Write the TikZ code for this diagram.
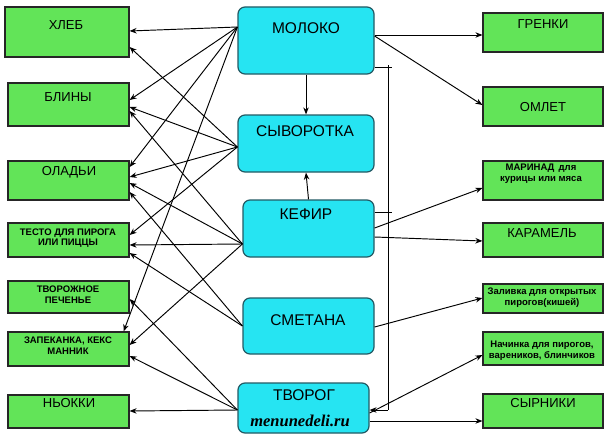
\documentclass[tikz,border=0pt]{standalone}
\usepackage{fontspec}
\setmainfont{Liberation Sans}
\newfontfamily\wmserif{Liberation Serif}
\usetikzlibrary{fit,arrows.meta}
\definecolor{gfill}{RGB}{98,228,88}
\definecolor{cfill}{RGB}{38,228,242}
\definecolor{cedge}{RGB}{35,90,100}
\begin{document}
\begin{tikzpicture}[x=1pt,y=-1pt,
 gbox/.style={draw=black!85, line width=1.2pt, fill=gfill, inner sep=0pt},
 cbox/.style={draw=cedge, line width=1.2pt, fill=cfill, inner sep=0pt, rounded corners=7pt},
 big/.style={font=\fontsize{13}{15}\selectfont, inner sep=0pt},
 cen/.style={font=\fontsize{15.5}{18}\selectfont, inner sep=0pt},
 small/.style={font=\bfseries\fontsize{9.5}{10.5}\selectfont, align=center, inner sep=0pt},
 conn/.style={draw=black, line width=0.95pt, -{Stealth[length=7pt,width=5.5pt]}},
 plain/.style={draw=black, line width=1pt}]
\fill[white] (0,0) rectangle (604,436);
\useasboundingbox (0,0) rectangle (604,436);
% left boxes
\node[gbox, fit={(5,7)(129,57)}] (hleb) {};
\node[gbox, fit={(8,83)(129,126)}] (blini) {};
\node[gbox, fit={(8,161)(129,200)}] (oladi) {};
\node[gbox, fit={(8,223)(129,257)}] (testo) {};
\node[gbox, fit={(8,281)(129,313)}] (pech) {};
\node[gbox, fit={(8,332)(129,366)}] (zapek) {};
\node[gbox, fit={(8,395)(129,428)}] (nyokki) {};
% center boxes
\node[cbox, fit={(238,7)(374,74)}] (moloko) {};
\node[cbox, fit={(238,115)(374,172)}] (syv) {};
\node[cbox, fit={(243,200)(374,257)}] (kefir) {};
\node[cbox, fit={(243,298)(374,354)}] (smetana) {};
\node[cbox, fit={(238,383)(369,433)}] (tvorog) {};
% right boxes
\node[gbox, fit={(483,13)(603,52)}] (grenki) {};
\node[gbox, fit={(483,87)(603,126)}] (omlet) {};
\node[gbox, fit={(483,161)(603,200)}] (marinad) {};
\node[gbox, fit={(483,223)(603,257)}] (karamel) {};
\node[gbox, fit={(483,284)(603,313)}] (zaliv) {};
\node[gbox, fit={(483,332)(603,365)}] (nachin) {};
\node[gbox, fit={(483,394)(603,428)}] (syrniki) {};
% texts
\node[big] (t-hleb) at (66,25) {ХЛЕБ};
\node[big] (t-blini) at (68,97) {БЛИНЫ};
\node[big] (t-oladi) at (69,172) {ОЛАДЬИ};
\node[small] (t-testo) at (68,238) {ТЕСТО ДЛЯ ПИРОГА\\ИЛИ ПИЦЦЫ};
\node[small] (t-pech) at (68,294.5) {ТВОРОЖНОЕ\\ПЕЧЕНЬЕ};
\node[small] (t-zapek) at (68,345.5) {ЗАПЕКАНКА, КЕКС\\МАННИК};
\node[big] (t-nyokki) at (69,403) {НЬОККИ};
\node[cen] (t-moloko) at (306,28) {МОЛОКО};
\node[cen] (t-syv) at (305,131) {СЫВОРОТКА};
\node[cen] (t-kefir) at (306,214) {КЕФИР};
\node[cen] (t-smetana) at (308,320) {СМЕТАНА};
\node[cen] (t-tvorog) at (304,395) {ТВОРОГ};
\node[inner sep=0pt, font=\wmserif\bfseries\itshape\fontsize{16.5}{18}\selectfont] (t-site) at (300,421) {menunedeli.ru};
\node[big] (t-grenki) at (543,24) {ГРЕНКИ};
\node[big] (t-omlet) at (543,107) {ОМЛЕТ};
\node[small] (t-marinad) at (541,173.5) {МАРИНАД\, для\\курицы или мяса};
\node[big] (t-karamel) at (542,233) {КАРАМЕЛЬ};
\node[small] (t-zaliv) at (542,297.5) {Заливка для открытых\\пирогов(кишей)};
\node[small] (t-nachin) at (542,350.5) {Начинка для пирогов,\\вареников, блинчиков};
\node[big] (t-syrniki) at (543,403) {СЫРНИКИ};
% left connectors
\draw[conn] (moloko.west |- 0,27) -- (hleb.east |- 0,31);
\draw[conn] (moloko.west |- 0,27) -- (blini.east |- 0,100);
\draw[conn] (moloko.west |- 0,27) -- (oladi.east |- 0,167);
\draw[conn] (moloko.west |- 0,27) -- ([xshift=-6pt]zapek.north east);
\draw[conn] (syv.west |- 0,147) -- (hleb.east |- 0,47);
\draw[conn] (syv.west |- 0,147) -- (blini.east |- 0,107);
\draw[conn] (syv.west |- 0,147) -- (oladi.east |- 0,177);
\draw[conn] (syv.west |- 0,147) -- (testo.east |- 0,235);
\draw[conn] (kefir.west |- 0,244) -- (blini.east |- 0,111);
\draw[conn] (kefir.west |- 0,244) -- (oladi.east |- 0,183);
\draw[conn] (kefir.west |- 0,244) -- (testo.east |- 0,245);
\draw[conn] (kefir.west |- 0,244) -- (zapek.east |- 0,345);
\draw[conn] (smetana.west |- 0,326) -- (oladi.east |- 0,192);
\draw[conn] (smetana.west |- 0,326) -- (testo.east |- 0,253);
\draw[conn] (tvorog.west |- 0,410) -- (pech.east |- 0,299);
\draw[conn] (tvorog.west |- 0,410) -- (zapek.east |- 0,356);
\draw[conn] (tvorog.west |- 0,410) -- (nyokki.east |- 0,411);
% vertical connectors
\draw[conn] (moloko.south) -- (syv.north);
\draw[conn] (kefir.north) -- (syv.south);
% right connectors
\draw[conn] (moloko.east |- 0,35) -- (grenki.west |- 0,35);
\draw[conn] (moloko.east |- 0,36) -- (omlet.west |- 0,105);
\draw[conn] (kefir.east |- 0,228) -- (marinad.west |- 0,188);
\draw[conn] (kefir.east |- 0,237) -- (karamel.west |- 0,241);
\draw[conn] (smetana.east |- 0,327) -- (zaliv.west |- 0,298);
\draw[conn] (tvorog.east |- 0,413) -- (nachin.west |- 0,355);
\draw[conn] (tvorog.east |- 0,421) -- (syrniki.west |- 0,421);
% bracket from milk and kefir to tvorog
\coordinate (bm) at (392,67);
\coordinate (bk) at (392,212);
\coordinate (btop) at (388,65);
\coordinate (bbot) at (388,410);
\draw[plain] (moloko.east |- bm) -- (bm);
\draw[plain] (kefir.east |- bk) -- (bk);
\draw[plain] (btop) -- (bbot);
\draw[conn] (bbot) -- (tvorog.east |- bbot);
\end{tikzpicture}
\end{document}
